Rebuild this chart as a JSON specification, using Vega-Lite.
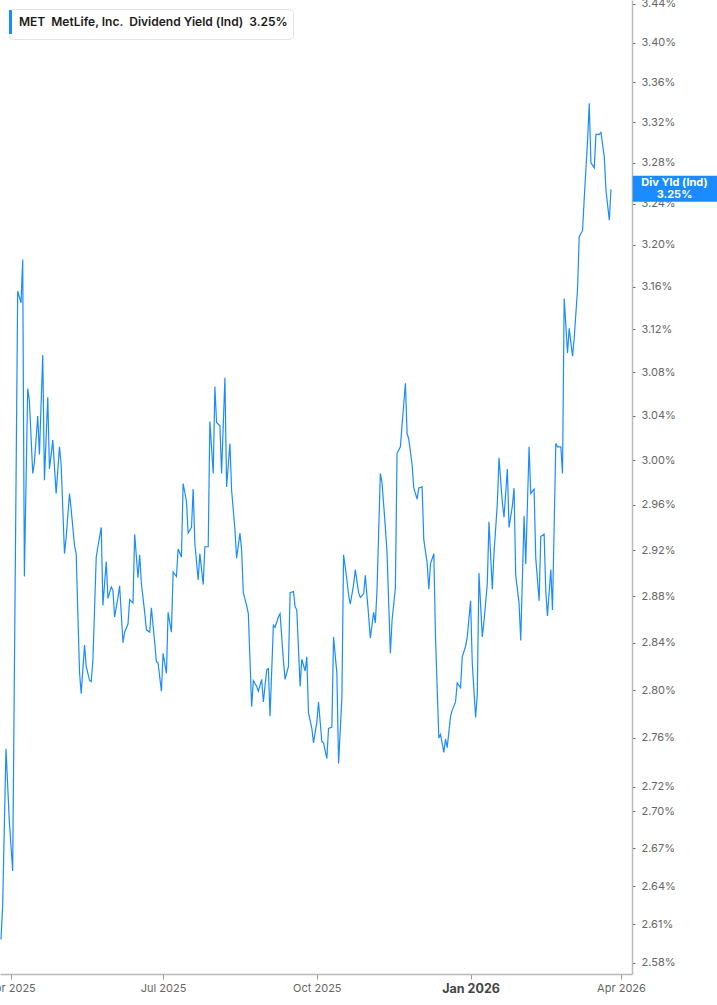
{
  "$schema": "https://vega.github.io/schema/vega-lite/v6.json",
  "description": "MetLife dividend yield (indicated), daily, log scale.",
  "width": 632,
  "height": 974,
  "autosize": "none",
  "padding": {"left": 0, "top": 0, "right": 85, "bottom": 31},
  "background": "white",
  "config": {"view": {"stroke": null}, "font": "Inter", "axis": {"grid": false}},
  "layer": [
    {
      "data": {"values": [
        {"date": "2025-03-26", "yield": 2.598}, {"date": "2025-03-27", "yield": 2.624}, {"date": "2025-03-29", "yield": 2.751},
        {"date": "2025-03-31", "yield": 2.692}, {"date": "2025-04-02", "yield": 2.652}, {"date": "2025-04-05", "yield": 3.156},
        {"date": "2025-04-07", "yield": 3.145}, {"date": "2025-04-08", "yield": 3.186}, {"date": "2025-04-09", "yield": 2.897},
        {"date": "2025-04-11", "yield": 3.065}, {"date": "2025-04-12", "yield": 3.054}, {"date": "2025-04-14", "yield": 2.988},
        {"date": "2025-04-15", "yield": 2.998}, {"date": "2025-04-17", "yield": 3.040}, {"date": "2025-04-18", "yield": 3.005},
        {"date": "2025-04-20", "yield": 3.096}, {"date": "2025-04-21", "yield": 2.982}, {"date": "2025-04-23", "yield": 3.057},
        {"date": "2025-04-24", "yield": 2.992}, {"date": "2025-04-26", "yield": 3.018}, {"date": "2025-04-28", "yield": 2.970},
        {"date": "2025-04-30", "yield": 3.012}, {"date": "2025-05-01", "yield": 2.996}, {"date": "2025-05-03", "yield": 2.917},
        {"date": "2025-05-04", "yield": 2.931}, {"date": "2025-05-06", "yield": 2.970}, {"date": "2025-05-07", "yield": 2.956},
        {"date": "2025-05-09", "yield": 2.924}, {"date": "2025-05-10", "yield": 2.917}, {"date": "2025-05-12", "yield": 2.815},
        {"date": "2025-05-13", "yield": 2.797}, {"date": "2025-05-15", "yield": 2.838}, {"date": "2025-05-16", "yield": 2.820},
        {"date": "2025-05-18", "yield": 2.808}, {"date": "2025-05-19", "yield": 2.807}, {"date": "2025-05-20", "yield": 2.825},
        {"date": "2025-05-22", "yield": 2.914}, {"date": "2025-05-23", "yield": 2.923}, {"date": "2025-05-25", "yield": 2.940},
        {"date": "2025-05-26", "yield": 2.872}, {"date": "2025-05-28", "yield": 2.910}, {"date": "2025-05-29", "yield": 2.878},
        {"date": "2025-05-31", "yield": 2.888}, {"date": "2025-06-01", "yield": 2.885}, {"date": "2025-06-02", "yield": 2.862},
        {"date": "2025-06-04", "yield": 2.879}, {"date": "2025-06-05", "yield": 2.889}, {"date": "2025-06-07", "yield": 2.840},
        {"date": "2025-06-08", "yield": 2.849}, {"date": "2025-06-10", "yield": 2.856}, {"date": "2025-06-11", "yield": 2.877},
        {"date": "2025-06-13", "yield": 2.874}, {"date": "2025-06-14", "yield": 2.934}, {"date": "2025-06-16", "yield": 2.896},
        {"date": "2025-06-17", "yield": 2.916}, {"date": "2025-06-18", "yield": 2.891}, {"date": "2025-06-20", "yield": 2.866},
        {"date": "2025-06-21", "yield": 2.851}, {"date": "2025-06-23", "yield": 2.849}, {"date": "2025-06-24", "yield": 2.870},
        {"date": "2025-06-26", "yield": 2.840}, {"date": "2025-06-27", "yield": 2.824}, {"date": "2025-06-28", "yield": 2.823},
        {"date": "2025-06-30", "yield": 2.799}, {"date": "2025-07-01", "yield": 2.831}, {"date": "2025-07-03", "yield": 2.814},
        {"date": "2025-07-04", "yield": 2.866}, {"date": "2025-07-06", "yield": 2.849}, {"date": "2025-07-07", "yield": 2.901},
        {"date": "2025-07-09", "yield": 2.897}, {"date": "2025-07-10", "yield": 2.921}, {"date": "2025-07-12", "yield": 2.914},
        {"date": "2025-07-13", "yield": 2.979}, {"date": "2025-07-15", "yield": 2.963}, {"date": "2025-07-16", "yield": 2.935},
        {"date": "2025-07-18", "yield": 2.940}, {"date": "2025-07-19", "yield": 2.974}, {"date": "2025-07-20", "yield": 2.926},
        {"date": "2025-07-22", "yield": 2.894}, {"date": "2025-07-23", "yield": 2.917}, {"date": "2025-07-25", "yield": 2.890},
        {"date": "2025-07-26", "yield": 2.923}, {"date": "2025-07-28", "yield": 2.923}, {"date": "2025-07-29", "yield": 3.035},
        {"date": "2025-07-31", "yield": 2.988}, {"date": "2025-08-01", "yield": 3.067}, {"date": "2025-08-02", "yield": 3.034},
        {"date": "2025-08-04", "yield": 3.031}, {"date": "2025-08-05", "yield": 2.988}, {"date": "2025-08-07", "yield": 3.075},
        {"date": "2025-08-08", "yield": 2.976}, {"date": "2025-08-10", "yield": 3.015}, {"date": "2025-08-11", "yield": 2.973},
        {"date": "2025-08-13", "yield": 2.938}, {"date": "2025-08-14", "yield": 2.913}, {"date": "2025-08-16", "yield": 2.935},
        {"date": "2025-08-17", "yield": 2.920}, {"date": "2025-08-18", "yield": 2.883}, {"date": "2025-08-20", "yield": 2.872},
        {"date": "2025-08-21", "yield": 2.865}, {"date": "2025-08-23", "yield": 2.786}, {"date": "2025-08-24", "yield": 2.808},
        {"date": "2025-08-26", "yield": 2.803}, {"date": "2025-08-27", "yield": 2.799}, {"date": "2025-08-29", "yield": 2.809},
        {"date": "2025-08-30", "yield": 2.790}, {"date": "2025-09-01", "yield": 2.817}, {"date": "2025-09-02", "yield": 2.818},
        {"date": "2025-09-03", "yield": 2.778}, {"date": "2025-09-05", "yield": 2.855}, {"date": "2025-09-06", "yield": 2.853},
        {"date": "2025-09-08", "yield": 2.862}, {"date": "2025-09-09", "yield": 2.865}, {"date": "2025-09-11", "yield": 2.825},
        {"date": "2025-09-12", "yield": 2.809}, {"date": "2025-09-14", "yield": 2.820}, {"date": "2025-09-15", "yield": 2.883},
        {"date": "2025-09-17", "yield": 2.884}, {"date": "2025-09-18", "yield": 2.871}, {"date": "2025-09-19", "yield": 2.868},
        {"date": "2025-09-21", "yield": 2.803}, {"date": "2025-09-22", "yield": 2.826}, {"date": "2025-09-24", "yield": 2.816},
        {"date": "2025-09-25", "yield": 2.828}, {"date": "2025-09-26", "yield": 2.781}, {"date": "2025-09-28", "yield": 2.768},
        {"date": "2025-09-29", "yield": 2.756}, {"date": "2025-10-01", "yield": 2.773}, {"date": "2025-10-02", "yield": 2.790},
        {"date": "2025-10-04", "yield": 2.757}, {"date": "2025-10-05", "yield": 2.756}, {"date": "2025-10-07", "yield": 2.743},
        {"date": "2025-10-08", "yield": 2.768}, {"date": "2025-10-10", "yield": 2.769}, {"date": "2025-10-11", "yield": 2.845},
        {"date": "2025-10-13", "yield": 2.814}, {"date": "2025-10-14", "yield": 2.739}, {"date": "2025-10-16", "yield": 2.794},
        {"date": "2025-10-17", "yield": 2.916}, {"date": "2025-10-19", "yield": 2.894}, {"date": "2025-10-20", "yield": 2.881},
        {"date": "2025-10-21", "yield": 2.873}, {"date": "2025-10-23", "yield": 2.890}, {"date": "2025-10-24", "yield": 2.903},
        {"date": "2025-10-26", "yield": 2.883}, {"date": "2025-10-27", "yield": 2.879}, {"date": "2025-10-29", "yield": 2.882},
        {"date": "2025-10-30", "yield": 2.898}, {"date": "2025-11-01", "yield": 2.863}, {"date": "2025-11-02", "yield": 2.844},
        {"date": "2025-11-04", "yield": 2.866}, {"date": "2025-11-05", "yield": 2.857}, {"date": "2025-11-06", "yield": 2.885},
        {"date": "2025-11-08", "yield": 2.988}, {"date": "2025-11-09", "yield": 2.980}, {"date": "2025-11-11", "yield": 2.940},
        {"date": "2025-11-12", "yield": 2.918}, {"date": "2025-11-14", "yield": 2.831}, {"date": "2025-11-15", "yield": 2.859},
        {"date": "2025-11-17", "yield": 2.887}, {"date": "2025-11-18", "yield": 3.006}, {"date": "2025-11-20", "yield": 3.012},
        {"date": "2025-11-21", "yield": 3.032}, {"date": "2025-11-23", "yield": 3.070}, {"date": "2025-11-24", "yield": 3.024},
        {"date": "2025-11-25", "yield": 3.019}, {"date": "2025-11-27", "yield": 2.996}, {"date": "2025-11-28", "yield": 2.975},
        {"date": "2025-11-30", "yield": 2.965}, {"date": "2025-12-01", "yield": 2.975}, {"date": "2025-12-03", "yield": 2.976},
        {"date": "2025-12-04", "yield": 2.929}, {"date": "2025-12-06", "yield": 2.909}, {"date": "2025-12-07", "yield": 2.886},
        {"date": "2025-12-08", "yield": 2.908}, {"date": "2025-12-10", "yield": 2.917}, {"date": "2025-12-11", "yield": 2.845},
        {"date": "2025-12-13", "yield": 2.760}, {"date": "2025-12-14", "yield": 2.763}, {"date": "2025-12-16", "yield": 2.748},
        {"date": "2025-12-17", "yield": 2.759}, {"date": "2025-12-18", "yield": 2.752}, {"date": "2025-12-20", "yield": 2.778},
        {"date": "2025-12-21", "yield": 2.783}, {"date": "2025-12-23", "yield": 2.790}, {"date": "2025-12-24", "yield": 2.806},
        {"date": "2025-12-26", "yield": 2.802}, {"date": "2025-12-27", "yield": 2.828}, {"date": "2025-12-29", "yield": 2.837},
        {"date": "2025-12-30", "yield": 2.845}, {"date": "2026-01-01", "yield": 2.876}, {"date": "2026-01-02", "yield": 2.823},
        {"date": "2026-01-04", "yield": 2.777}, {"date": "2026-01-05", "yield": 2.796}, {"date": "2026-01-06", "yield": 2.900},
        {"date": "2026-01-08", "yield": 2.845}, {"date": "2026-01-09", "yield": 2.858}, {"date": "2026-01-11", "yield": 2.891},
        {"date": "2026-01-12", "yield": 2.945}, {"date": "2026-01-14", "yield": 2.886}, {"date": "2026-01-15", "yield": 2.917},
        {"date": "2026-01-17", "yield": 2.961}, {"date": "2026-01-18", "yield": 3.002}, {"date": "2026-01-20", "yield": 2.962},
        {"date": "2026-01-21", "yield": 2.949}, {"date": "2026-01-23", "yield": 2.992}, {"date": "2026-01-24", "yield": 2.940},
        {"date": "2026-01-26", "yield": 2.959}, {"date": "2026-01-27", "yield": 2.975}, {"date": "2026-01-28", "yield": 2.898},
        {"date": "2026-01-30", "yield": 2.874}, {"date": "2026-01-31", "yield": 2.842}, {"date": "2026-02-02", "yield": 2.950},
        {"date": "2026-02-03", "yield": 2.908}, {"date": "2026-02-05", "yield": 3.012}, {"date": "2026-02-06", "yield": 2.970},
        {"date": "2026-02-08", "yield": 2.974}, {"date": "2026-02-09", "yield": 2.913}, {"date": "2026-02-11", "yield": 2.876},
        {"date": "2026-02-12", "yield": 2.932}, {"date": "2026-02-14", "yield": 2.934}, {"date": "2026-02-15", "yield": 2.884},
        {"date": "2026-02-16", "yield": 2.863}, {"date": "2026-02-18", "yield": 2.903}, {"date": "2026-02-19", "yield": 2.868},
        {"date": "2026-02-21", "yield": 3.015}, {"date": "2026-02-22", "yield": 3.012}, {"date": "2026-02-24", "yield": 3.012},
        {"date": "2026-02-25", "yield": 2.988}, {"date": "2026-02-26", "yield": 3.149}, {"date": "2026-02-28", "yield": 3.098},
        {"date": "2026-03-01", "yield": 3.121}, {"date": "2026-03-03", "yield": 3.095}, {"date": "2026-03-04", "yield": 3.112},
        {"date": "2026-03-06", "yield": 3.158}, {"date": "2026-03-07", "yield": 3.208}, {"date": "2026-03-09", "yield": 3.214},
        {"date": "2026-03-10", "yield": 3.245}, {"date": "2026-03-12", "yield": 3.302}, {"date": "2026-03-13", "yield": 3.339},
        {"date": "2026-03-14", "yield": 3.280}, {"date": "2026-03-16", "yield": 3.275}, {"date": "2026-03-17", "yield": 3.308},
        {"date": "2026-03-19", "yield": 3.308}, {"date": "2026-03-20", "yield": 3.310}, {"date": "2026-03-22", "yield": 3.286},
        {"date": "2026-03-23", "yield": 3.253}, {"date": "2026-03-25", "yield": 3.224}, {"date": "2026-03-26", "yield": 3.254}
      ]},
      "mark": {"type": "line", "color": "#1a8cff", "strokeWidth": 1.2},
      "encoding": {
        "x": {
          "field": "date", "type": "temporal",
          "scale": {"domain": [{"year": 2025, "month": 3, "date": 25, "hours": 10}, {"year": 2026, "month": 4, "date": 7, "hours": 14}]},
          "axis": {
            "title": null,
            "values": [{"year": 2025, "month": 4, "date": 1}, {"year": 2025, "month": 7, "date": 1}, {"year": 2025, "month": 10, "date": 1}, {"year": 2026, "month": 1, "date": 1}, {"year": 2026, "month": 4, "date": 1}],
            "format": "%b %Y",
            "labelFontWeight": {"condition": {"test": "month(datum.value) == 0", "value": "bold"}, "value": "normal"},
            "labelFontSize": {"condition": {"test": "month(datum.value) == 0", "value": 12.5}, "value": 11},
            "labelColor": {"condition": {"test": "month(datum.value) == 0", "value": "#444"}, "value": "#666"},
            "labelPadding": 3,
            "labelBound": false,
            "labelFlush": false,
            "labelOverlap": false,
            "tickSize": 5,
            "tickColor": "#999",
            "domainColor": "#b8b8b8",
            "domainWidth": 1.5
          }
        },
        "y": {
          "field": "yield", "type": "quantitative",
          "scale": {"type": "log", "domain": [2.5713, 3.4441], "nice": false, "zero": false},
          "axis": {
            "orient": "right",
            "title": null,
            "values": [2.58, 2.61, 2.64, 2.67, 2.70, 2.72, 2.76, 2.80, 2.84, 2.88, 2.92, 2.96, 3.00, 3.04, 3.08, 3.12, 3.16, 3.20, 3.24, 3.28, 3.32, 3.36, 3.40, 3.44],
            "labelExpr": "format(datum.value, '.2f') + '%'",
            "labelColor": "#666",
            "labelFontSize": 11,
            "labelPadding": 6,
            "labelOverlap": false,
            "labelBound": false,
            "tickSize": 3,
            "tickColor": "#666",
            "domainColor": "#b8b8b8",
            "domainWidth": 1.5
          }
        },
        "color": {
          "datum": "MET\u00a0 MetLife, Inc.\u00a0 Dividend Yield (Ind)\u00a0 3.25%",
          "type": "nominal",
          "scale": {"range": ["#1a8cff"]},
          "legend": {
            "title": null,
            "orient": "top-left",
            "offset": 9,
            "padding": 5,
            "strokeColor": "#e3e3e3",
            "fillColor": "white",
            "cornerRadius": 4,
            "symbolType": "M-1.625,-1.5H-1.25V1.5H-1.625Z",
            "symbolSize": 256,
            "symbolFillColor": "#1a8cff",
            "symbolStrokeColor": "#1a8cff",
            "symbolStrokeWidth": 0,
            "labelOffset": -11,
            "labelFont": "Inter",
            "labelFontSize": 12,
            "labelFontWeight": 600,
            "labelColor": "#1a1a1a",
            "labelLimit": 400
          }
        }
      }
    },
    {
      "data": {"values": [
        {"start": "2026-04-08", "end": "2026-06-30", "mid": "2026-05-03", "yield": 3.2545, "label": ["Div Yld (Ind)", "3.25%"]}
      ]},
      "layer": [
        {
          "mark": {"type": "rect", "color": "#1a8cff", "height": 26},
          "encoding": {
            "x": {"field": "start", "type": "temporal"},
            "x2": {"field": "end"},
            "y": {"field": "yield", "type": "quantitative"}
          }
        },
        {
          "mark": {"type": "text", "color": "white", "fontWeight": "bold", "fontSize": 11, "lineHeight": 12, "font": "Inter", "baseline": "middle", "dy": -6},
          "encoding": {
            "x": {"field": "mid", "type": "temporal"},
            "y": {"field": "yield", "type": "quantitative"},
            "text": {"field": "label"}
          }
        }
      ]
    }
  ]
}
